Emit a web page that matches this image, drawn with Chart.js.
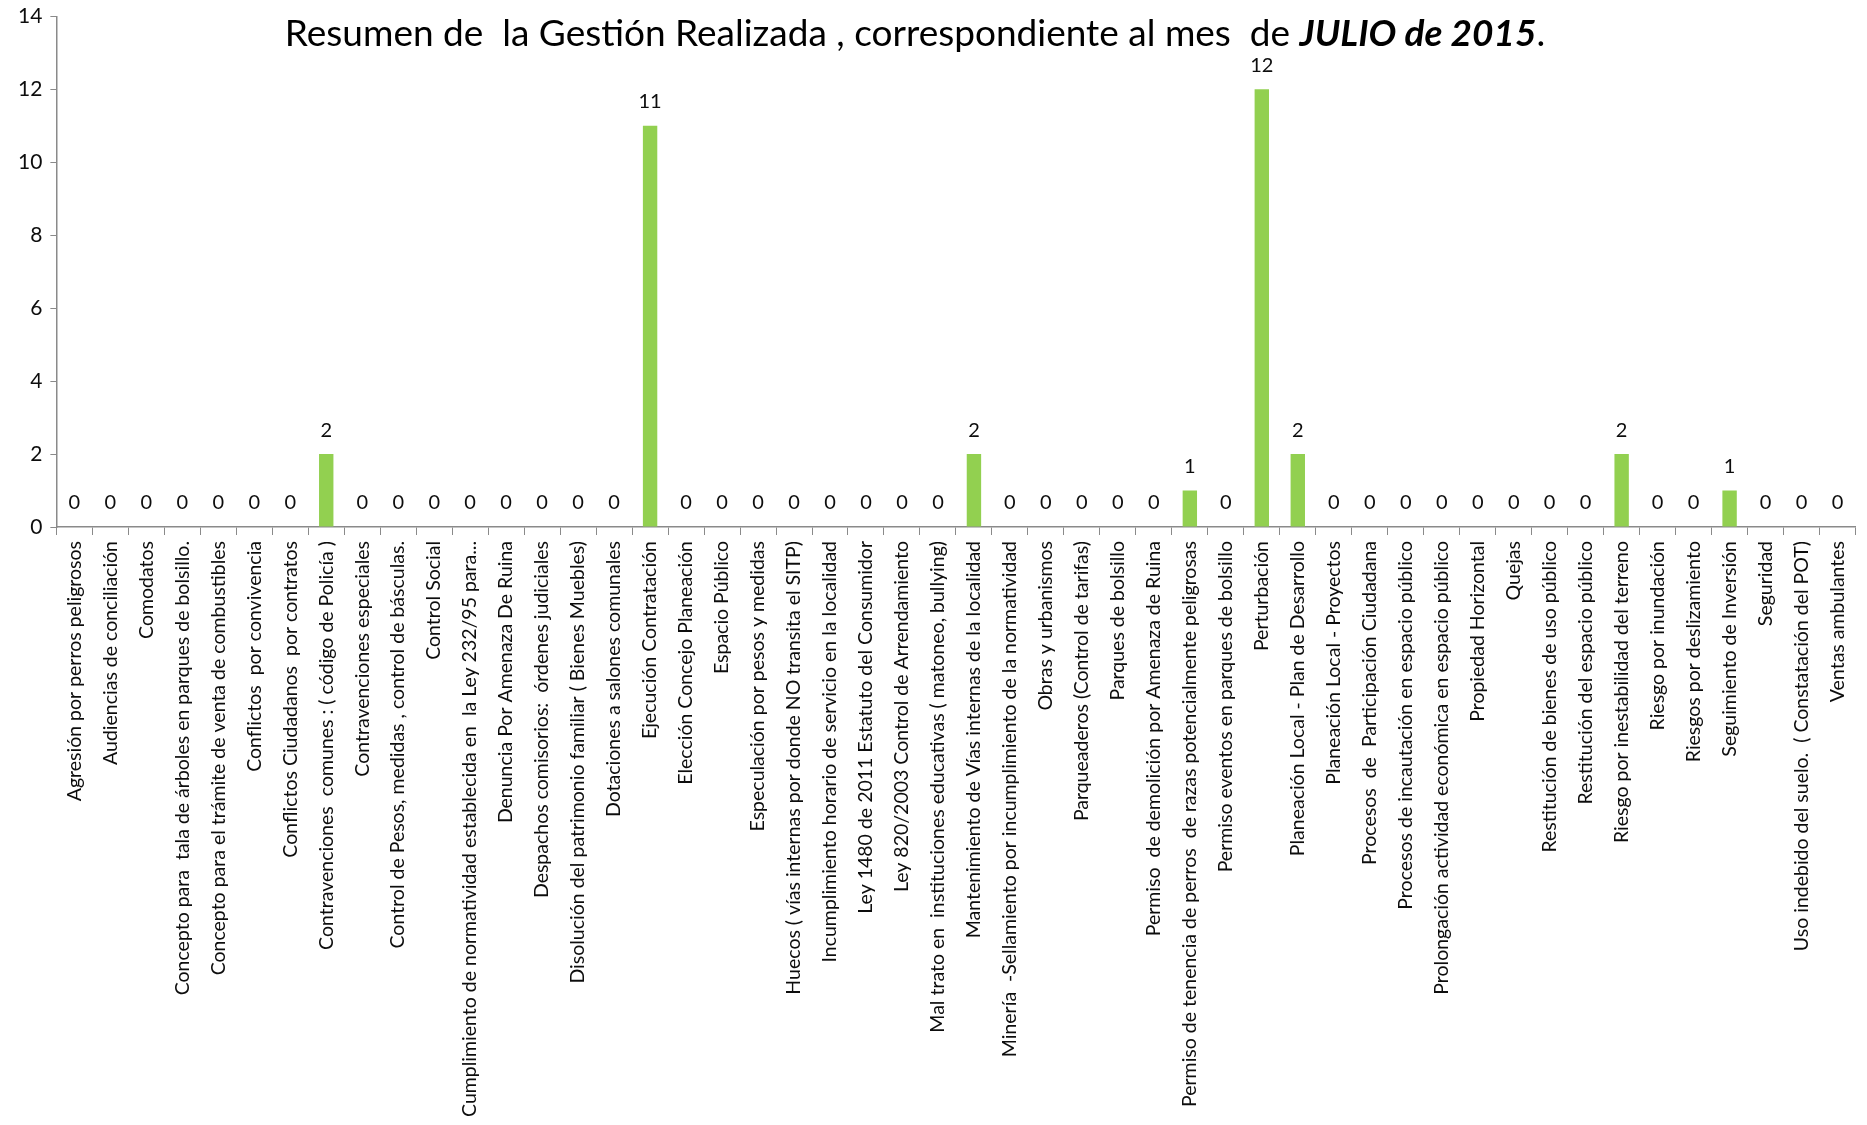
<!DOCTYPE html>
<html>
<head>
<meta charset="utf-8">
<script src="https://cdn.jsdelivr.net/npm/chart.js@4/dist/chart.umd.min.js"></script>
<style>
  body { margin: 0; background: #fff; }
  #chartDiv { width: 1867px; height: 1125px; position: relative; }
</style>
</head>
<body>
<div id="chartDiv"><canvas id="chartGestion"></canvas></div>
<script>
const categories = [
  "Agresión por perros peligrosos",
  "Audiencias de conciliación",
  "Comodatos",
  "Concepto para  tala de árboles en parques de bolsillo.",
  "Concepto para el trámite de venta de combustibles",
  "Conflictos  por convivencia",
  "Conflictos Ciudadanos  por contratos",
  "Contravenciones  comunes : ( código de Policía )",
  "Contravenciones especiales",
  "Control de Pesos, medidas , control de básculas.",
  "Control Social",
  "Cumplimiento de normatividad establecida en  la Ley 232/95 para...",
  "Denuncia Por Amenaza De Ruina",
  "Despachos comisorios:  órdenes judiciales",
  "Disolución del patrimonio familiar ( Bienes Muebles)",
  "Dotaciones a salones comunales",
  "Ejecución Contratación",
  "Elección Concejo Planeación",
  "Espacio Público",
  "Especulación por pesos y medidas",
  "Huecos ( vías internas por donde NO transita el SITP)",
  "Incumplimiento horario de servicio en la localidad",
  "Ley 1480 de 2011 Estatuto del Consumidor",
  "Ley 820/2003 Control de Arrendamiento",
  "Mal trato en  instituciones educativas ( matoneo, bullying)",
  "Mantenimiento de Vías internas de la localidad",
  "Minería  -Sellamiento por incumplimiento de la normatividad",
  "Obras y urbanismos",
  "Parqueaderos (Control de tarifas)",
  "Parques de bolsillo",
  "Permiso  de demolición por Amenaza de Ruina",
  "Permiso de tenencia de perros  de razas potencialmente peligrosas",
  "Permiso eventos en parques de bolsillo",
  "Perturbación",
  "Planeación Local - Plan de Desarrollo",
  "Planeación Local - Proyectos",
  "Procesos  de  Participación Ciudadana",
  "Procesos de incautación en espacio público",
  "Prolongación actividad económica en espacio público",
  "Propiedad Horizontal",
  "Quejas",
  "Restitución de bienes de uso público",
  "Restitución del espacio público",
  "Riesgo por inestabilidad del terreno",
  "Riesgo por inundación",
  "Riesgos por deslizamiento",
  "Seguimiento de Inversión",
  "Seguridad",
  "Uso indebido del suelo.  ( Constatación del POT)",
  "Ventas ambulantes"
];

const casos = [
  0, 0, 0, 0, 0, 0, 0, 2, 0, 0,
  0, 0, 0, 0, 0, 0, 11, 0, 0, 0,
  0, 0, 0, 0, 0, 2, 0, 0, 0, 0,
  0, 1, 0, 12, 2, 0, 0, 0, 0, 0,
  0, 0, 0, 2, 0, 0, 1, 0, 0, 0
];

const yTicks = [0, 2, 4, 6, 8, 10, 12, 14];

const titleNormal = "Resumen de  la Gestión Realizada , correspondiente al mes  de ";
const titleBold = "JULIO de 2015";
const titleEnd = ".";

const fontName = "Lato, 'Open Sans', sans-serif";
const textColor = "#0d0d0d";
const axisColor = "#8a8a8a";

// valores encima de cada barra
const valueLabels = {
  id: "valueLabels",
  afterDatasetsDraw(chart) {
    const ctx = chart.ctx;
    const meta = chart.getDatasetMeta(0);
    ctx.save();
    ctx.font = "20px " + fontName;
    ctx.fillStyle = textColor;
    ctx.textAlign = "center";
    ctx.textBaseline = "middle";
    meta.data.forEach((bar, i) => {
      ctx.fillText(String(casos[i]), bar.x, bar.y - 24);
    });
    ctx.restore();
  },
};

// titulo con parte en negrita cursiva
const mixedTitle = {
  id: "mixedTitle",
  afterDraw(chart) {
    const ctx = chart.ctx;
    const normalFont = "37px " + fontName;
    const boldFont = "italic bold 37px " + fontName;
    ctx.save();
    ctx.fillStyle = "#000";
    ctx.textBaseline = "middle";
    ctx.font = normalFont;
    const w1 = ctx.measureText(titleNormal).width;
    const w3 = ctx.measureText(titleEnd).width;
    ctx.font = boldFont;
    const w2 = ctx.measureText(titleBold).width;
    let x = 915 - (w1 + w2 + w3) / 2;
    const y = 34;
    ctx.textAlign = "left";
    ctx.font = normalFont;
    ctx.fillText(titleNormal, x, y);
    x += w1;
    ctx.font = boldFont;
    ctx.fillText(titleBold, x, y);
    x += w2;
    ctx.font = normalFont;
    ctx.fillText(titleEnd, x, y);
    ctx.restore();
  },
};

const chartElement = document.querySelector("#chartGestion");

new Chart(chartElement, {
  type: "bar",
  data: {
    labels: categories,
    datasets: [
      {
        label: "Gestión",
        data: casos,
        backgroundColor: "#92d050",
        barPercentage: 0.4,
        categoryPercentage: 1,
      },
    ],
  },
  options: {
    responsive: true,
    maintainAspectRatio: false,
    animation: false,
    layout: {
      padding: { left: 10, right: 6, top: 0, bottom: 2 },
    },
    plugins: {
      legend: { display: false },
      tooltip: { enabled: false },
      title: { display: false },
    },
    scales: {
      x: {
        // the long rotated labels need more than half the canvas height
        afterFit: (axis) => {
          axis.height = 596;
        },
        grid: {
          display: true,
          drawOnChartArea: false,
          drawTicks: true,
          tickLength: 8,
          color: axisColor,
        },
        border: { display: true, color: axisColor, width: 1.5 },
        ticks: {
          autoSkip: false,
          maxRotation: 90,
          minRotation: 90,
          color: textColor,
          font: { family: fontName, size: 19.5 },
          padding: 6,
        },
      },
      y: {
        min: 0,
        max: 14,
        afterBuildTicks: (axis) => {
          axis.ticks = yTicks.map((v) => ({ value: v }));
        },
        grid: {
          display: true,
          drawOnChartArea: false,
          drawTicks: true,
          tickLength: 6,
          color: axisColor,
        },
        border: { display: true, color: axisColor, width: 1.5 },
        ticks: {
          color: textColor,
          font: { family: fontName, size: 21, lineHeight: 0.8 },
          padding: 8,
        },
      },
    },
  },
  plugins: [valueLabels, mixedTitle],
});
</script>
</body>
</html>
